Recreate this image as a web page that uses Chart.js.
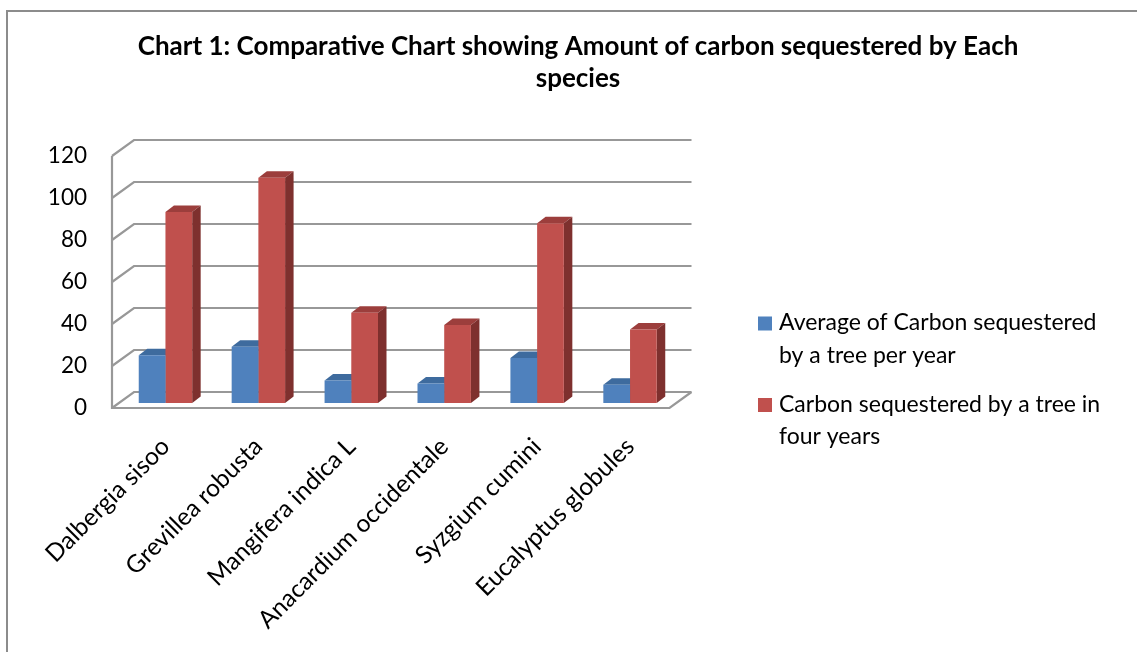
<!DOCTYPE html>
<html>
<head>
<meta charset="utf-8">
<title>Carbon sequestered by species</title>
<script src="https://cdn.jsdelivr.net/npm/chart.js@4.4.1/dist/chart.umd.min.js"></script>
<style>
  html, body { margin: 0; padding: 0; background: #ffffff; }
  #wrap { position: relative; width: 1137px; height: 652px; overflow: hidden; }
  #wrap canvas { position: absolute; left: 0; top: 0; }
  #frame {
    position: absolute; left: 6px; top: 10px; width: 1200px; height: 700px;
    border-left: 2px solid #8c8c8c; border-top: 2px solid #8c8c8c;
    pointer-events: none;
  }
</style>
</head>
<body>
<div id="wrap">
  <canvas id="chart" width="1137" height="652"></canvas>
  <div id="frame"></div>
</div>
<script>
// ---- data ----
const categories = [
  'Dalbergia sisoo',
  'Grevillea robusta',
  'Mangifera indica L',
  'Anacardium occidentale',
  'Syzgium cumini',
  'Eucalyptus globules'
];
const perYearValues   = [22.7, 26.8, 10.7, 9.3, 21.4, 8.7];
const fourYearValues  = [91, 107.3, 43, 37.2, 85.6, 35];
const yTickValues     = [0, 20, 40, 60, 80, 100, 120];
const seriesNames = [
  ['Average of Carbon sequestered', 'by a tree per year'],
  ['Carbon sequestered by a tree in', 'four years']
];
const titleLines = [
  'Chart 1: Comparative Chart showing Amount of carbon sequestered by Each',
  'species'
];

// ---- styling ----
const FRONT_COLORS = ['#4F81BD', '#C0504D'];
const TOP_COLORS   = ['#3E6B9E', '#9C3E3C'];
const SIDE_COLORS  = ['#365C88', '#7E302E'];
const WALL_LINE    = '#989898';
const FONT = 'Lato';

// perspective offsets relative to the plane the bar fronts sit on
const FRONT_EDGE = { dx: -7, dy: 5 };     // front edge of floor / side wall
const BACK_WALL  = { dx: 15, dy: -11 };   // back wall
const BAR_DEPTH  = { dx: 8.5, dy: -6.5 }; // extrusion of each bar

// back wall, side wall, floor, and the top/side faces of each bar
const box3d = {
  id: 'box3d',
  beforeDatasetsDraw(chart) {
    const { ctx, chartArea: a, scales: { y } } = chart;
    ctx.save();
    ctx.strokeStyle = WALL_LINE;
    ctx.lineWidth = 2.2;
    ctx.lineJoin = 'miter';

    yTickValues.forEach(v => {
      const py = y.getPixelForValue(v);
      ctx.beginPath();
      ctx.moveTo(a.left + FRONT_EDGE.dx, py + FRONT_EDGE.dy);
      ctx.lineTo(a.left + BACK_WALL.dx, py + BACK_WALL.dy);
      ctx.lineTo(a.right + BACK_WALL.dx, py + BACK_WALL.dy);
      ctx.stroke();
    });

    const yTop = y.getPixelForValue(y.max);
    const yZero = y.getPixelForValue(0);
    // vertical front edge of the side wall
    ctx.beginPath();
    ctx.moveTo(a.left + FRONT_EDGE.dx, yTop + FRONT_EDGE.dy);
    ctx.lineTo(a.left + FRONT_EDGE.dx, yZero + FRONT_EDGE.dy);
    // floor front and right edges
    ctx.lineTo(a.right + FRONT_EDGE.dx, yZero + FRONT_EDGE.dy);
    ctx.lineTo(a.right + BACK_WALL.dx, yZero + BACK_WALL.dy);
    ctx.stroke();

    chart.data.datasets.forEach((ds, di) => {
      const meta = chart.getDatasetMeta(di);
      meta.data.forEach(bar => {
        const { x, y: yt, base, width } = bar.getProps(['x', 'y', 'base', 'width'], true);
        const l = x - width / 2, r = x + width / 2;
        ctx.fillStyle = TOP_COLORS[di];
        ctx.beginPath();
        ctx.moveTo(l, yt);
        ctx.lineTo(l + BAR_DEPTH.dx, yt + BAR_DEPTH.dy);
        ctx.lineTo(r + BAR_DEPTH.dx, yt + BAR_DEPTH.dy);
        ctx.lineTo(r, yt);
        ctx.closePath();
        ctx.fill();
        ctx.fillStyle = SIDE_COLORS[di];
        ctx.beginPath();
        ctx.moveTo(r, yt);
        ctx.lineTo(r + BAR_DEPTH.dx, yt + BAR_DEPTH.dy);
        ctx.lineTo(r + BAR_DEPTH.dx, base + BAR_DEPTH.dy);
        ctx.lineTo(r, base);
        ctx.closePath();
        ctx.fill();
      });
    });
    ctx.restore();
  }
};

// legend with wrapped labels, drawn in the space right of the plot
const sideLegend = {
  id: 'sideLegend',
  afterDraw(chart) {
    const { ctx, chartArea: a } = chart;
    const box = 14, textGap = 21, lineH = 32.5, itemGap = 16.5;
    const x = a.right + 81.5;
    let top = 316.5;
    ctx.save();
    ctx.font = `23px ${FONT}`;
    ctx.textBaseline = 'alphabetic';
    ctx.textAlign = 'left';
    chart.data.datasets.forEach((ds, i) => {
      ctx.fillStyle = ds.backgroundColor;
      ctx.fillRect(x, top, box, box);
      ctx.fillStyle = '#000000';
      seriesNames[i].forEach((line, k) => {
        ctx.fillText(line, x + textGap, top + 13.5 + k * lineH);
      });
      top += seriesNames[i].length * lineH + itemGap;
    });
    ctx.restore();
  }
};

new Chart(document.getElementById('chart'), {
  type: 'bar',
  data: {
    labels: categories,
    datasets: [
      { label: seriesNames[0].join(' '), data: perYearValues,  backgroundColor: FRONT_COLORS[0], borderWidth: 0 },
      { label: seriesNames[1].join(' '), data: fourYearValues, backgroundColor: FRONT_COLORS[1], borderWidth: 0 }
    ]
  },
  options: {
    responsive: false,
    animation: false,
    devicePixelRatio: 1,
    categoryPercentage: 0.575,
    barPercentage: 1.0,
    layout: { padding: { left: 19, right: 0, top: 0, bottom: 0 } },
    plugins: {
      legend: { display: false },
      tooltip: { enabled: false },
      title: {
        display: true,
        text: titleLines,
        color: '#000000',
        font: { family: FONT, weight: 'bold', size: 26, lineHeight: '32px' },
        padding: { top: 31, bottom: 56 }
      }
    },
    scales: {
      x: {
        grid: { display: false, drawTicks: false },
        border: { display: false },
        ticks: {
          autoSkip: false, minRotation: 45, maxRotation: 45,
          padding: 29, color: '#000000',
          font: { family: FONT, size: 24.5 }
        },
        afterFit: s => { s.height = 249; }
      },
      y: {
        min: 0, max: 120,
        grid: { display: false, drawTicks: false },
        border: { display: false },
        afterBuildTicks: s => { s.ticks = yTickValues.map(v => ({ value: v })); },
        ticks: {
          padding: 32, labelOffset: 5, color: '#000000',
          font: { family: FONT, size: 22.5 }
        },
        afterFit: s => { s.width = 100; }
      },
      legendSpace: {
        type: 'linear', position: 'right',
        grid: { display: false, drawTicks: false },
        border: { display: false },
        ticks: { display: false },
        afterFit: s => { s.width = 460.5; }
      }
    }
  },
  plugins: [box3d, sideLegend]
});
</script>
</body>
</html>
